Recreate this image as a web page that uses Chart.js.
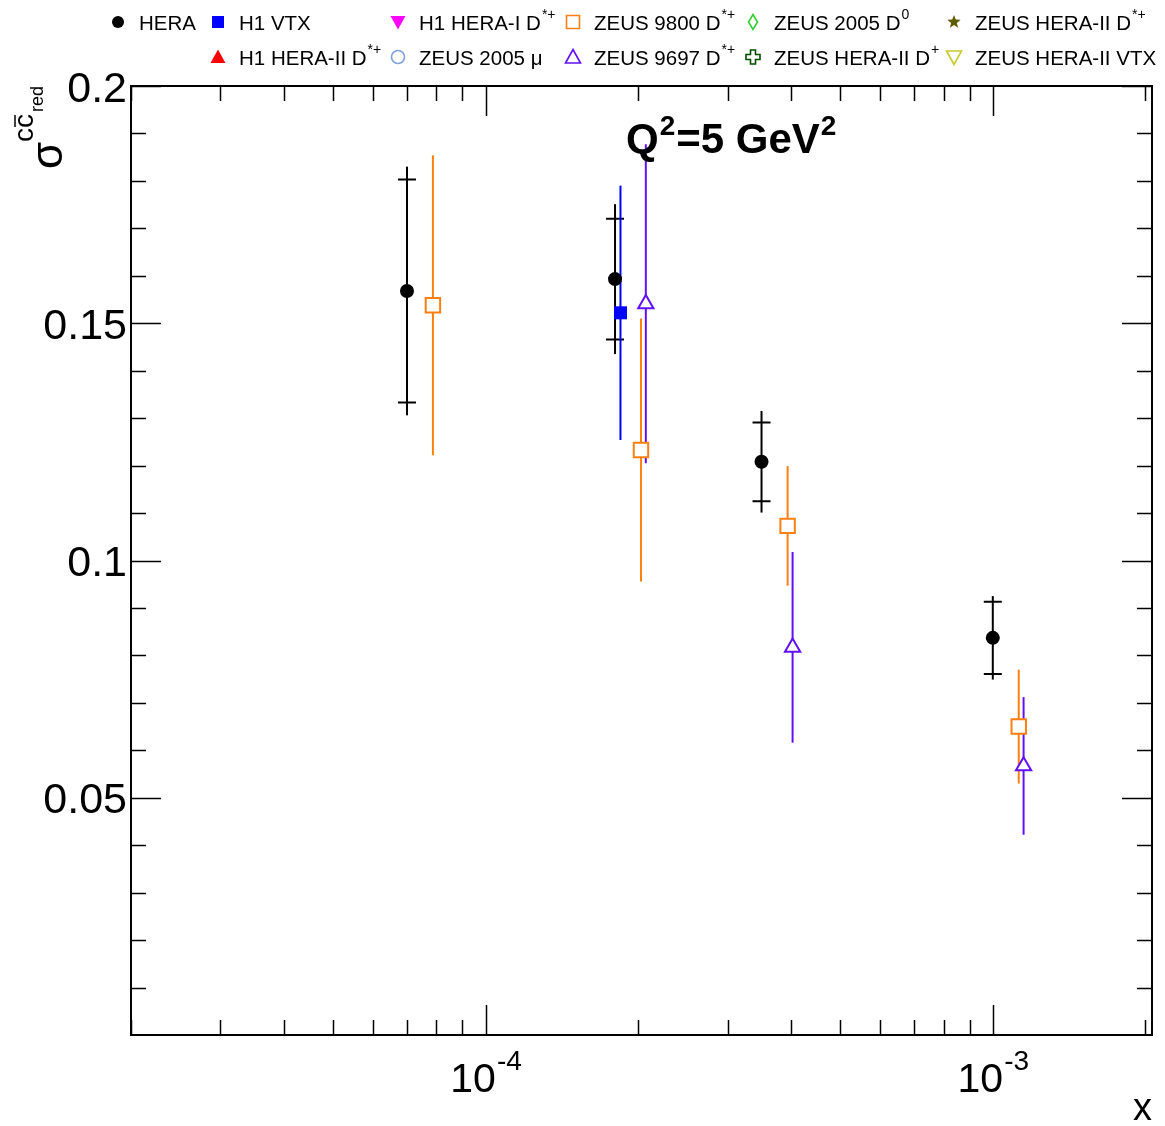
<!DOCTYPE html>
<html>
<head>
<meta charset="utf-8">
<script src="https://cdn.jsdelivr.net/npm/chart.js@4.4.0/dist/chart.umd.min.js"></script>
<style>
body { margin: 0; background: #fff; }
#wrap { width: 1165px; height: 1126px; }
</style>
</head>
<body>
<div id="wrap"><canvas id="grafico"></canvas></div>
<script>
// medidas combinadas HERA (erro total e erro nao correlacionado)
const xHera = [7.0e-5, 1.8e-4, 3.5e-4, 1.0e-3]
const yHera = [0.1568, 0.1593, 0.1208, 0.0837]
const errHeraTot = [0.0262, 0.0158, 0.0107, 0.0088]
const errHeraUnc = [0.0235, 0.0127, 0.0083, 0.0076]

const xH1Vtx = [1.845e-4]
const yH1Vtx = [0.1522]
const errH1Vtx = [0.0268]

const xZeus9800 = [7.875e-5, 2.025e-4, 3.94e-4, 1.125e-3]
const yZeus9800 = [0.1538, 0.1233, 0.1073, 0.0650]
const errZeus9800 = [0.0316, 0.0277, 0.0126, 0.0120]

const xZeus9697 = [2.07e-4, 4.03e-4, 1.15e-3]
const yZeus9697 = [0.1541, 0.0817, 0.0567]
const errZeus9697 = [0.0336, 0.0201, 0.0145]

const yTicks = [0.05, 0.1, 0.15, 0.2]
const yTickLabels = ['0.05', '0.1', '0.15', '0.2']
const xTicks = [1e-4, 1e-3]
const xTickExp = ['-4', '-3']

const legendNames = ['HERA', 'H1 VTX', 'H1 HERA-I D', 'ZEUS 9800 D', 'ZEUS 2005 D', 'ZEUS HERA-II D',
                     'H1 HERA-II D', 'ZEUS 2005 \u03bc', 'ZEUS 9697 D', 'ZEUS HERA-II D', 'ZEUS HERA-II VTX']
const legendSup = ['', '', '*+', '*+', '0', '*+', '*+', '', '*+', '+', '']

const FONTE = '"Liberation Sans", Arial, sans-serif'

function pontos(xs, ys) {
    return xs.map((x, i) => ({ x: x, y: ys[i] }))
}

// marcadores da legenda (alguns nao existem no Chart.js)
const marcas = [
    { tipo: 'circle', cor: '#000000' },
    { tipo: 'square', cor: '#0000ff' },
    { tipo: 'triDown', cor: '#ff00ff' },
    { tipo: 'openSquare', cor: '#ff8010' },
    { tipo: 'openDiamond', cor: '#33cc33' },
    { tipo: 'star', cor: '#5c5c00' },
    { tipo: 'triUp', cor: '#ff0000' },
    { tipo: 'openCircle', cor: '#7f9fdf' },
    { tipo: 'openTriUp', cor: '#6010ff' },
    { tipo: 'openCross', cor: '#004d00' },
    { tipo: 'openTriDown', cor: '#c8c830' }
]
const slots = [
    [118, 22], [218, 22], [398, 22], [573, 22], [753, 22], [954, 22],
    [218, 57], [398, 57], [573, 57], [753, 57], [954, 57]
]

function desenhaMarca(ctx, tipo, x, y, cor) {
    ctx.save()
    ctx.fillStyle = cor
    ctx.strokeStyle = cor
    ctx.lineWidth = 1.6
    ctx.beginPath()
    if (tipo == 'circle') {
        ctx.arc(x, y, 6, 0, Math.PI * 2); ctx.fill()
    } else if (tipo == 'openCircle') {
        ctx.arc(x, y, 6.5, 0, Math.PI * 2); ctx.stroke()
    } else if (tipo == 'square') {
        ctx.rect(x - 6, y - 6, 12, 12); ctx.fill()
    } else if (tipo == 'openSquare') {
        ctx.rect(x - 6.5, y - 6.5, 13, 13); ctx.stroke()
    } else if (tipo == 'triUp' || tipo == 'openTriUp') {
        ctx.moveTo(x, y - 7.5); ctx.lineTo(x + 7.5, y + 6); ctx.lineTo(x - 7.5, y + 6); ctx.closePath()
        tipo == 'triUp' ? ctx.fill() : ctx.stroke()
    } else if (tipo == 'triDown' || tipo == 'openTriDown') {
        ctx.moveTo(x, y + 7.5); ctx.lineTo(x + 7.5, y - 6); ctx.lineTo(x - 7.5, y - 6); ctx.closePath()
        tipo == 'triDown' ? ctx.fill() : ctx.stroke()
    } else if (tipo == 'openDiamond') {
        ctx.moveTo(x, y - 7.5); ctx.lineTo(x + 4.5, y); ctx.lineTo(x, y + 7.5); ctx.lineTo(x - 4.5, y); ctx.closePath(); ctx.stroke()
    } else if (tipo == 'openCross') {
        const a = 2.5, b = 7
        ctx.moveTo(x - a, y - b); ctx.lineTo(x + a, y - b); ctx.lineTo(x + a, y - a); ctx.lineTo(x + b, y - a)
        ctx.lineTo(x + b, y + a); ctx.lineTo(x + a, y + a); ctx.lineTo(x + a, y + b); ctx.lineTo(x - a, y + b)
        ctx.lineTo(x - a, y + a); ctx.lineTo(x - b, y + a); ctx.lineTo(x - b, y - a); ctx.lineTo(x - a, y - a)
        ctx.closePath(); ctx.stroke()
    } else if (tipo == 'star') {
        for (let k = 0; k < 10; k++) {
            const r = k % 2 == 0 ? 7 : 3
            const ang = -Math.PI / 2 + k * Math.PI / 5
            const px = x + r * Math.cos(ang), py = y + r * Math.sin(ang)
            k == 0 ? ctx.moveTo(px, py) : ctx.lineTo(px, py)
        }
        ctx.closePath(); ctx.fill()
    }
    ctx.restore()
}

// texto com expoente
function textoSup(ctx, base, sup, x, y, tam, tamSup, sobe, peso) {
    peso = peso || ''
    ctx.font = peso + ' ' + tam + 'px ' + FONTE
    ctx.fillText(base, x, y)
    let w = ctx.measureText(base).width
    if (sup) {
        ctx.font = peso + ' ' + tamSup + 'px ' + FONTE
        ctx.fillText(sup, x + w + 1, y - sobe)
        w += ctx.measureText(sup).width + 1
    }
    return w
}

const barrasErro = {
    id: 'barrasErro',
    beforeDatasetsDraw(chart) {
        const ctx = chart.ctx
        const ys = chart.scales.y
        chart.data.datasets.forEach((ds, d) => {
            if (!ds.erros) return
            const meta = chart.getDatasetMeta(d)
            ctx.save()
            ctx.strokeStyle = ds.borderColor
            ctx.lineWidth = 2
            meta.data.forEach((el, i) => {
                const v = ds.data[i].y
                const y1 = ys.getPixelForValue(v + ds.erros[i])
                const y2 = ys.getPixelForValue(v - ds.erros[i])
                ctx.beginPath()
                ctx.moveTo(el.x, y1)
                ctx.lineTo(el.x, y2)
                ctx.stroke()
                if (ds.errosUnc) {
                    const u1 = ys.getPixelForValue(v + ds.errosUnc[i])
                    const u2 = ys.getPixelForValue(v - ds.errosUnc[i])
                    ctx.beginPath()
                    ctx.moveTo(el.x - 9, u1); ctx.lineTo(el.x + 9, u1)
                    ctx.moveTo(el.x - 9, u2); ctx.lineTo(el.x + 9, u2)
                    ctx.stroke()
                }
            })
            ctx.restore()
        })
    }
}

const moldura = {
    id: 'moldura',
    afterDraw(chart) {
        const ctx = chart.ctx
        const a = chart.chartArea
        const xs = chart.scales.x, ys = chart.scales.y
        ctx.save()
        ctx.strokeStyle = '#000'
        ctx.lineWidth = 2
        ctx.strokeRect(a.left, a.top, a.right - a.left, a.bottom - a.top)

        // ticks do eixo y (esquerda e direita)
        ctx.lineWidth = 1.5
        ctx.beginPath()
        for (let k = 1; k <= 20; k++) {
            const v = k * 0.01
            const py = Math.round(ys.getPixelForValue(v)) + 0.5
            const len = k % 5 == 0 ? 30 : 15
            ctx.moveTo(a.left, py); ctx.lineTo(a.left + len, py)
            ctx.moveTo(a.right, py); ctx.lineTo(a.right - len, py)
        }
        // ticks do eixo x (log)
        for (let e = -5; e <= -3; e++) {
            for (let m = 1; m <= 9; m++) {
                const v = m * Math.pow(10, e)
                if (v < xs.min || v > xs.max) continue
                const px = Math.round(xs.getPixelForValue(v)) + 0.5
                const len = m == 1 ? 30 : 15
                ctx.moveTo(px, a.bottom); ctx.lineTo(px, a.bottom - len)
                ctx.moveTo(px, a.top); ctx.lineTo(px, a.top + len)
            }
        }
        ctx.stroke()

        ctx.fillStyle = '#000'
        ctx.textAlign = 'right'
        ctx.textBaseline = 'alphabetic'
        ctx.font = '43px ' + FONTE
        yTicks.forEach((v, i) => {
            ctx.fillText(yTickLabels[i], a.left - 4, ys.getPixelForValue(v) + 15.5)
        })

        ctx.textAlign = 'left'
        xTicks.forEach((v, i) => {
            ctx.font = '41px ' + FONTE
            const wb = ctx.measureText('10').width
            ctx.font = '28px ' + FONTE
            const ws = ctx.measureText(xTickExp[i]).width
            const x0 = xs.getPixelForValue(v) - (wb + ws) / 2
            textoSup(ctx, '10', xTickExp[i], x0, 1092, 41, 28, 22)
        })

        // titulo do eixo x
        ctx.textAlign = 'right'
        ctx.font = '38px ' + FONTE
        ctx.fillText('x', a.right, 1120)

        // titulo do eixo y: sigma^{c cbar}_{red}
        ctx.save()
        ctx.translate(62, 169)
        ctx.rotate(-Math.PI / 2)
        ctx.textAlign = 'left'
        ctx.font = '44px ' + FONTE
        ctx.fillText('\u03c3', 0, 0)
        ctx.font = '28px ' + FONTE
        ctx.fillText('c', 27, -29)
        const wc = ctx.measureText('c').width
        ctx.fillText('c', 27 + wc, -29)
        ctx.lineWidth = 1.5
        ctx.beginPath()
        ctx.moveTo(27 + wc + 1, -47); ctx.lineTo(27 + 2 * wc - 1, -47)
        ctx.stroke()
        ctx.font = '18px ' + FONTE
        ctx.fillText('red', 57, -19)
        ctx.restore()

        // rotulo Q2
        ctx.textAlign = 'left'
        let px = 626
        px += textoSup(ctx, 'Q', '2', px, 153, 42, 28, 18, 'bold')
        textoSup(ctx, '=5 GeV', '2', px + 1, 153, 42, 28, 18, 'bold')

        // legenda
        legendNames.forEach((nome, i) => {
            const s = slots[i]
            desenhaMarca(ctx, marcas[i].tipo, s[0], s[1], marcas[i].cor)
            ctx.fillStyle = '#000'
            textoSup(ctx, nome, legendSup[i], s[0] + 21, s[1] + 8, 20.5, 14, 11)
        })
        ctx.restore()
    }
}

const ctx = document.getElementById('grafico').getContext('2d')
const chart = new Chart(ctx, {
    type: 'scatter',
    data: {
        datasets: [{
            label: 'HERA',
            data: pontos(xHera, yHera),
            erros: errHeraTot,
            errosUnc: errHeraUnc,
            pointStyle: 'circle',
            radius: 7,
            backgroundColor: '#000',
            borderColor: '#000',
            borderWidth: 0
        }, {
            label: 'H1 VTX',
            data: pontos(xH1Vtx, yH1Vtx),
            erros: errH1Vtx,
            pointStyle: 'rect',
            radius: 9.2,
            backgroundColor: '#0000ff',
            borderColor: '#0000ff',
            borderWidth: 0
        }, {
            label: 'ZEUS 9800 D*+',
            data: pontos(xZeus9800, yZeus9800),
            erros: errZeus9800,
            pointStyle: 'rect',
            radius: 10.2,
            backgroundColor: '#fff',
            borderColor: '#ff8010',
            borderWidth: 2
        }, {
            label: 'ZEUS 9697 D*+',
            data: pontos(xZeus9697, yZeus9697),
            erros: errZeus9697,
            pointStyle: 'triangle',
            radius: 8.8,
            backgroundColor: '#fff',
            borderColor: '#6010ff',
            borderWidth: 2
        }]
    },
    options: {
        responsive: true,
        maintainAspectRatio: false,
        animation: false,
        layout: { padding: { left: 131, top: 86, right: 13, bottom: 91 } },
        plugins: { legend: { display: false }, tooltip: { enabled: false } },
        scales: {
            x: { type: 'logarithmic', min: 2e-5, max: 2.06e-3, display: false },
            y: { type: 'linear', min: 0, max: 0.2, display: false }
        }
    },
    plugins: [barrasErro, moldura]
});
</script>
</body>
</html>
